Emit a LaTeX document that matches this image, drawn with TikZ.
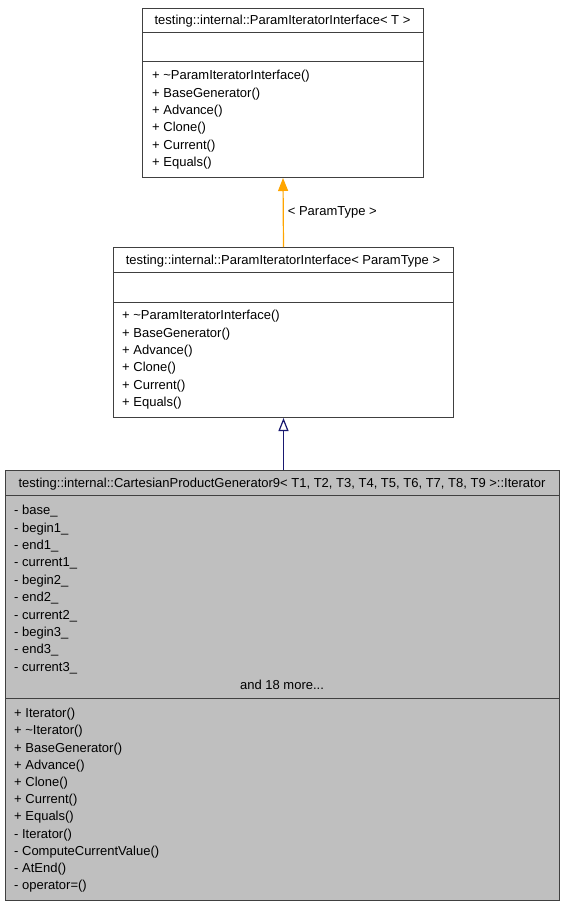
\documentclass[tikz,border=0pt]{standalone}
\usepackage{fontspec}
\setmainfont{Liberation Sans}
\usetikzlibrary{arrows.meta}
\definecolor{edgeline}{HTML}{404040}
\definecolor{grayfill}{HTML}{BFBFBF}
\definecolor{inhblue}{HTML}{191970}
\definecolor{tplorange}{HTML}{FFA500}
\tikzset{
  classbox/.style={draw=edgeline, line width=1pt, rectangle, inner sep=0pt, anchor=north west},
  sepline/.style={draw=edgeline, line width=1pt},
  member/.style={anchor=base west, inner sep=0pt, font=\fontsize{13}{15}\selectfont},
  titletext/.style={anchor=base, inner sep=0pt, font=\fontsize{13}{15}\selectfont},
  tplarrow/.style={draw=tplorange, line width=1.2pt, -{Triangle[width=10pt,length=13pt,fill=tplorange]}},
  inharrow/.style={draw=inhblue, line width=1.2pt, -{Triangle[open,width=10pt,length=13pt,fill=white]}},
}
\begin{document}
\begin{tikzpicture}[x=1pt,y=-1pt]
\useasboundingbox (0,0) rectangle (565,907);
% top box
\node[classbox, fill=white, minimum width=281pt, minimum height=169pt] (top) at (142,8) {};
\draw[sepline] (142,33) -- (423,33);
\draw[sepline] (142,62) -- (423,62);
\node[titletext] (toptitle) at (282.5,25) {testing::internal::ParamIteratorInterface< T >};
\foreach \t [count=\i from 0] in {+ \textasciitilde ParamIteratorInterface(),+ BaseGenerator(),+ Advance(),+ Clone(),+ Current(),+ Equals()}
  \node[member] (topm\i) at (152,79.6+17.4*\i) {\t};
% middle box
\node[classbox, fill=white, minimum width=340pt, minimum height=170pt] (mid) at (113,247) {};
\draw[sepline] (113,272) -- (453,272);
\draw[sepline] (113,302) -- (453,302);
\node[titletext] (midtitle) at (283,264) {testing::internal::ParamIteratorInterface< ParamType >};
\foreach \t [count=\i from 0] in {+ \textasciitilde ParamIteratorInterface(),+ BaseGenerator(),+ Advance(),+ Clone(),+ Current(),+ Equals()}
  \node[member] (midm\i) at (122,319.6+17.4*\i) {\t};
% bottom box
\node[classbox, fill=grayfill, minimum width=554pt, minimum height=430pt] (bot) at (5,470) {};
\draw[sepline] (5,495) -- (559,495);
\draw[sepline] (5,698) -- (559,698);
\node[titletext] (bottitle) at (282,487) {testing::internal::CartesianProductGenerator9< T1, T2, T3, T4, T5, T6, T7, T8, T9 >::Iterator};
\foreach \t [count=\i from 0] in {- base\_,- begin1\_,- end1\_,- current1\_,- begin2\_,- end2\_,- current2\_,- begin3\_,- end3\_,- current3\_}
  \node[member] (bota\i) at (14,514.6+17.4*\i) {\t};
\node[titletext] (more) at (282,689) {and 18 more...};
\foreach \t [count=\i from 0] in {+ Iterator(),+ \textasciitilde Iterator(),+ BaseGenerator(),+ Advance(),+ Clone(),+ Current(),+ Equals(),- Iterator(),- ComputeCurrentValue(),- AtEnd(),- operator=()}
  \node[member] (botm\i) at (14,717.6+17.2*\i) {\t};
% connectors
\draw[tplarrow] (mid.north) -- node[right=4pt, inner sep=0pt, font=\fontsize{13}{15}\selectfont] (lbl) {< ParamType >} (top.south);
\draw[inharrow] (mid.south |- bot.north) -- (mid.south);
\end{tikzpicture}
\end{document}
